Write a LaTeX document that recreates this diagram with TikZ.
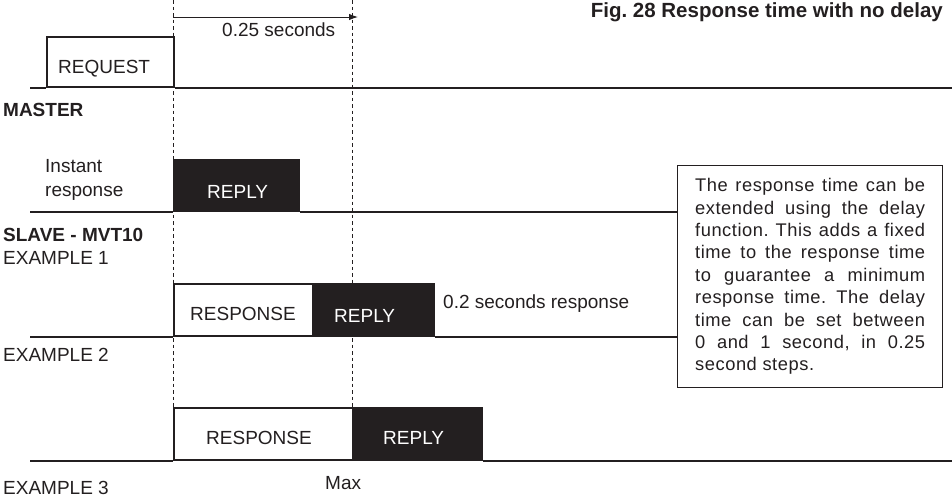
\documentclass[tikz,border=0pt]{standalone}
\usepackage{fontspec}
\setmainfont{Liberation Sans}
\newfontfamily\notefont[LetterSpace=3]{Liberation Sans}
\usetikzlibrary{arrows.meta, positioning}
\definecolor{inkline}{HTML}{231F20}
\frenchspacing
\tikzset{
  sig/.style      = {line width=2pt, draw=inkline},
  openblk/.style  = {rectangle, draw=inkline, fill=white, line width=2pt,
                     anchor=south west, inner sep=0pt},
  fillblk/.style  = {rectangle, draw=inkline, fill=inkline, line width=2pt,
                     anchor=south west, inner sep=0pt},
  lbl/.style      = {anchor=west, inner sep=0pt, text height=13.5pt, text depth=0pt,
                     font=\fontsize{19}{22}\selectfont, text=inkline},
  boxlbl/.style   = {lbl, text=white},
  blbl/.style     = {lbl, font=\fontsize{19}{22}\selectfont\bfseries},
  tickline/.style = {dash pattern=on 3.5pt off 3pt, line width=1pt, draw=inkline},
  timearrow/.style= {-{Latex[length=9pt,width=6.5pt]}, line width=1pt, draw=inkline},
  notebox/.style  = {rectangle, draw=inkline, line width=1.3pt, anchor=north west,
                     minimum width=265pt, minimum height=222pt, text width=230pt,
                     align=justify, inner sep=0pt, text=inkline,
                     font=\notefont\fontsize{18.3}{22.4}\selectfont\frenchspacing},
}

\begin{document}
\begin{tikzpicture}[x=1pt, y=-1pt]
        \useasboundingbox (0,0) rectangle (952,499);
        % time marks
        \coordinate (t0top) at (173,0);
        \coordinate (t0bot) at (173,461);
        \coordinate (t1top) at (352,0);
        \coordinate (t1bot) at (352,409);
        \draw[tickline] (t0top) -- (t0bot);
        \draw[tickline] (t1top) -- (t1bot);
        \coordinate (arrS) at (173,17);
        \coordinate (arrE) at (358,17);
        \draw[timearrow] (arrS) -- (arrE);
        \node[lbl] (tlbl) at (222,30) {0.25 seconds};
        \node[blbl, anchor=east] (title) at (943,11) {\fontsize{20.5}{22}\selectfont Fig. 28 Response time with no delay};

        % master
        \node[openblk, minimum width=127pt, minimum height=50pt] (req) at (46,88) {};
        \coordinate (mL) at (30,88);
        \coordinate (mR) at (952,88);
        \draw[sig] (mL) -- (req.south west);
        \draw[sig] (req.south east) -- (mR);
        \node[lbl] (reqlbl) at (58,67) {REQUEST};
        \node[blbl] (master) at (3,110) {MASTER};

        % note
        \node[notebox] (note) at (677,165) {The response time can be\linebreak
          extended using the delay\linebreak
          function. This adds a fixed\linebreak
          time to the response time\linebreak
          to guarantee a minimum\linebreak
          response time. The delay\linebreak
          time can be set between\linebreak
          0 and 1 second, in 0.25\linebreak
          second steps.};

        % example 1
        \node[fillblk, minimum width=125pt, minimum height=51pt] (rep1) at (173,212) {};
        \coordinate (e1L) at (30,212);
        \draw[sig] (e1L) -- (rep1.south west);
        \draw[sig] (rep1.south east) -- (rep1.south east -| note.west);
        \node[lbl] (instant) at (45,166) {Instant};
        \node[lbl] (respword) at (45,190) {response};
        \node[boxlbl] (rep1lbl) at (207,192) {REPLY};
        \node[blbl] (slave) at (3,235) {SLAVE - MVT10};
        \node[lbl] (ex1) at (3,258) {EXAMPLE 1};

        % example 2
        \node[openblk, minimum width=139pt, minimum height=52pt] (resp2) at (173,337) {};
        \node[fillblk, minimum width=119pt, minimum height=52pt] (rep2) at (resp2.south east) {};
        \coordinate (e2L) at (30,337);
        \draw[sig] (e2L) -- (resp2.south west);
        \draw[sig] (rep2.south east) -- (rep2.south east -| note.west);
        \node[lbl] (resp2lbl) at (190,314) {RESPONSE};
        \node[boxlbl] (rep2lbl) at (334,316) {REPLY};
        \node[lbl] (dlbl) at (443,302) {0.2 seconds response};
        \node[lbl] (ex2) at (3,355) {EXAMPLE 2};

        % example 3
        \node[openblk, minimum width=179pt, minimum height=52pt] (resp3) at (173,461) {};
        \node[fillblk, minimum width=127pt, minimum height=52pt] (rep3) at (resp3.south east) {};
        \coordinate (e3L) at (30,461);
        \coordinate (e3R) at (952,461);
        \draw[sig] (e3L) -- (resp3.south west);
        \draw[sig] (rep3.south east) -- (e3R);
        \node[lbl] (resp3lbl) at (206,438) {RESPONSE};
        \node[boxlbl] (rep3lbl) at (383,438) {REPLY};
        \node[lbl] (ex3) at (3,488) {EXAMPLE 3};
        \node[lbl] (maxlbl) at (325,483) {Max};
    \end{tikzpicture}
\end{document}
